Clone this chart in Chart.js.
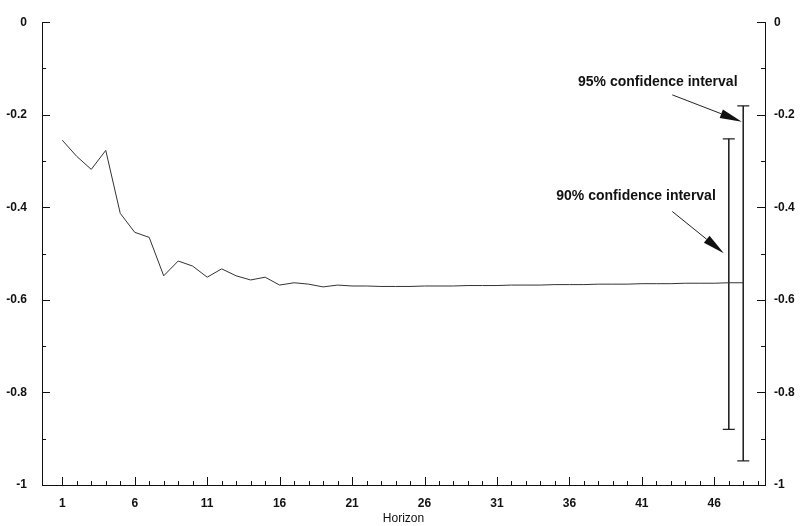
<!DOCTYPE html>
<html>
<head>
<meta charset="utf-8">
<script src="https://cdn.jsdelivr.net/npm/chart.js@4/dist/chart.umd.min.js"></script>
<style>
  html, body { margin: 0; padding: 0; background: #fff; }
  canvas { display: block; }
</style>
</head>
<body>
<canvas id="irf" width="805" height="526"></canvas>
<script>
// horizon 1..48 and the impulse response
const horizons = [1, 2, 3, 4, 5, 6, 7, 8, 9, 10, 11, 12, 13, 14, 15, 16, 17, 18, 19, 20, 21, 22, 23, 24,
                  25, 26, 27, 28, 29, 30, 31, 32, 33, 34, 35, 36, 37, 38, 39, 40, 41, 42, 43, 44, 45, 46, 47, 48];
const response = [-0.255, -0.290, -0.318, -0.277, -0.413, -0.454, -0.465, -0.548, -0.516, -0.527, -0.551, -0.533,
                  -0.548, -0.557, -0.551, -0.568, -0.563, -0.566, -0.572, -0.568, -0.570, -0.570, -0.571, -0.571,
                  -0.571, -0.570, -0.570, -0.570, -0.569, -0.569, -0.569, -0.568, -0.568, -0.568, -0.567, -0.567,
                  -0.567, -0.566, -0.566, -0.566, -0.565, -0.565, -0.565, -0.564, -0.564, -0.564, -0.563, -0.563];

// confidence intervals drawn at the end
const ciNames = ["90% confidence interval", "95% confidence interval"];
const ciHorizon = [47, 48];
const ciLow = [-0.880, -0.948];
const ciHigh = [-0.252, -0.181];

// label position and arrow (start -> tip) in data units
const ciLabelPos = [[40.6, -0.376], [42.1, -0.129]];
const ciArrowFrom = [[43.1, -0.409], [43.1, -0.157]];
const ciArrowTo = [[46.66, -0.499], [47.9, -0.215]];

const xTicks = [1, 6, 11, 16, 21, 26, 31, 36, 41, 46];
const yTicks = [0, -0.2, -0.4, -0.6, -0.8, -1];

const ink = '#111';
const tickFont = { family: 'Liberation Sans, Arial, sans-serif', size: 12, weight: 'bold' };

const ciDatasets = ciHorizon.map((h, i) => ({
    label: ciNames[i],
    data: [{ x: h, y: ciHigh[i] }, { x: h, y: ciLow[i] }],
    borderColor: '#222',
    borderWidth: 1,
    pointStyle: 'line',
    pointRadius: 6,
    pointBorderColor: '#222',
    pointBorderWidth: 1.2,
    fill: false
}));

// small inward tick marks on the three axes
const inwardTicks = {
    id: 'inwardTicks',
    afterDraw(chart) {
        const { ctx, chartArea: a, scales: { x, y } } = chart;
        ctx.save();
        ctx.strokeStyle = ink;
        ctx.lineWidth = 1;
        ctx.beginPath();
        for (let k = 0; k <= 10; k++) {
            const py = Math.round(y.getPixelForValue(-k / 10)) + 0.5;
            const len = k % 2 === 0 ? 8 : 4;
            ctx.moveTo(a.left, py); ctx.lineTo(a.left + len, py);
            ctx.moveTo(a.right, py); ctx.lineTo(a.right - len, py);
        }
        for (let h = 1; h <= 49; h++) {
            const px = Math.round(x.getPixelForValue(h)) + 0.5;
            const len = (h - 1) % 5 === 0 ? 8 : 4;
            ctx.moveTo(px, a.bottom); ctx.lineTo(px, a.bottom - len);
        }
        ctx.stroke();
        ctx.restore();
    }
};

// "xx% confidence interval" labels with arrows
const ciNotes = {
    id: 'ciNotes',
    afterDraw(chart) {
        const { ctx, scales: { x, y } } = chart;
        ctx.save();
        ctx.fillStyle = ink;
        ctx.strokeStyle = '#222';
        ctx.font = 'bold 14px "Liberation Sans", Arial, sans-serif';
        ctx.textAlign = 'center';
        ctx.textBaseline = 'middle';
        ciNames.forEach((name, i) => {
            ctx.fillText(name, x.getPixelForValue(ciLabelPos[i][0]), y.getPixelForValue(ciLabelPos[i][1]));

            const x0 = x.getPixelForValue(ciArrowFrom[i][0]), y0 = y.getPixelForValue(ciArrowFrom[i][1]);
            const x1 = x.getPixelForValue(ciArrowTo[i][0]), y1 = y.getPixelForValue(ciArrowTo[i][1]);
            const ang = Math.atan2(y1 - y0, x1 - x0);
            const headLen = 22, half = 4.5;
            const bx = x1 - headLen * Math.cos(ang), by = y1 - headLen * Math.sin(ang);
            ctx.lineWidth = 1;
            ctx.beginPath();
            ctx.moveTo(x0, y0);
            ctx.lineTo(bx, by);
            ctx.stroke();
            ctx.beginPath();
            ctx.moveTo(x1, y1);
            ctx.lineTo(bx - half * Math.sin(ang), by + half * Math.cos(ang));
            ctx.lineTo(bx + half * Math.sin(ang), by - half * Math.cos(ang));
            ctx.closePath();
            ctx.fill();
        });
        ctx.restore();
    }
};

new Chart(document.getElementById('irf').getContext('2d'), {
    type: 'line',
    data: {
        datasets: [
            {
                label: 'Response',
                data: horizons.map((h, i) => ({ x: h, y: response[i] })),
                borderColor: '#333',
                borderWidth: 1,
                pointRadius: 0,
                tension: 0,
                fill: false
            },
            ...ciDatasets
        ]
    },
    options: {
        responsive: false,
        animation: false,
        layout: { padding: { top: 20, left: 0, right: 0, bottom: 0 } },
        plugins: { legend: { display: false }, tooltip: { enabled: false } },
        scales: {
            x: {
                type: 'linear',
                min: -0.4,
                max: 49.5,
                afterBuildTicks: s => { s.ticks = xTicks.map(v => ({ value: v })); },
                afterFit: s => { s.height = 41; },
                grid: { drawOnChartArea: false, drawTicks: false },
                border: { display: true, color: ink, width: 1 },
                ticks: { color: ink, font: tickFont, padding: 11, maxRotation: 0, autoSkip: false,
                         callback: v => String(v) },
                title: { display: true, text: 'Horizon', color: ink, padding: { top: 0, bottom: 0 },
                         font: { family: 'Liberation Sans, Arial, sans-serif', size: 12 } }
            },
            y: {
                position: 'left',
                min: -1,
                max: 0,
                afterBuildTicks: s => { s.ticks = yTicks.map(v => ({ value: v })); },
                afterFit: s => { s.width = 42; },
                grid: { drawOnChartArea: false, drawTicks: false },
                border: { display: true, color: ink, width: 1 },
                ticks: { color: ink, font: tickFont, padding: 15, callback: v => String(Math.round(v * 10) / 10) }
            },
            y2: {
                display: true,
                position: 'right',
                min: -1,
                max: 0,
                afterBuildTicks: s => { s.ticks = yTicks.map(v => ({ value: v })); },
                afterFit: s => { s.width = 40; },
                grid: { drawOnChartArea: false, drawTicks: false },
                border: { display: true, color: ink, width: 1 },
                ticks: { color: ink, font: tickFont, padding: 9, callback: v => String(Math.round(v * 10) / 10) }
            }
        }
    },
    plugins: [inwardTicks, ciNotes]
});
</script>
</body>
</html>
